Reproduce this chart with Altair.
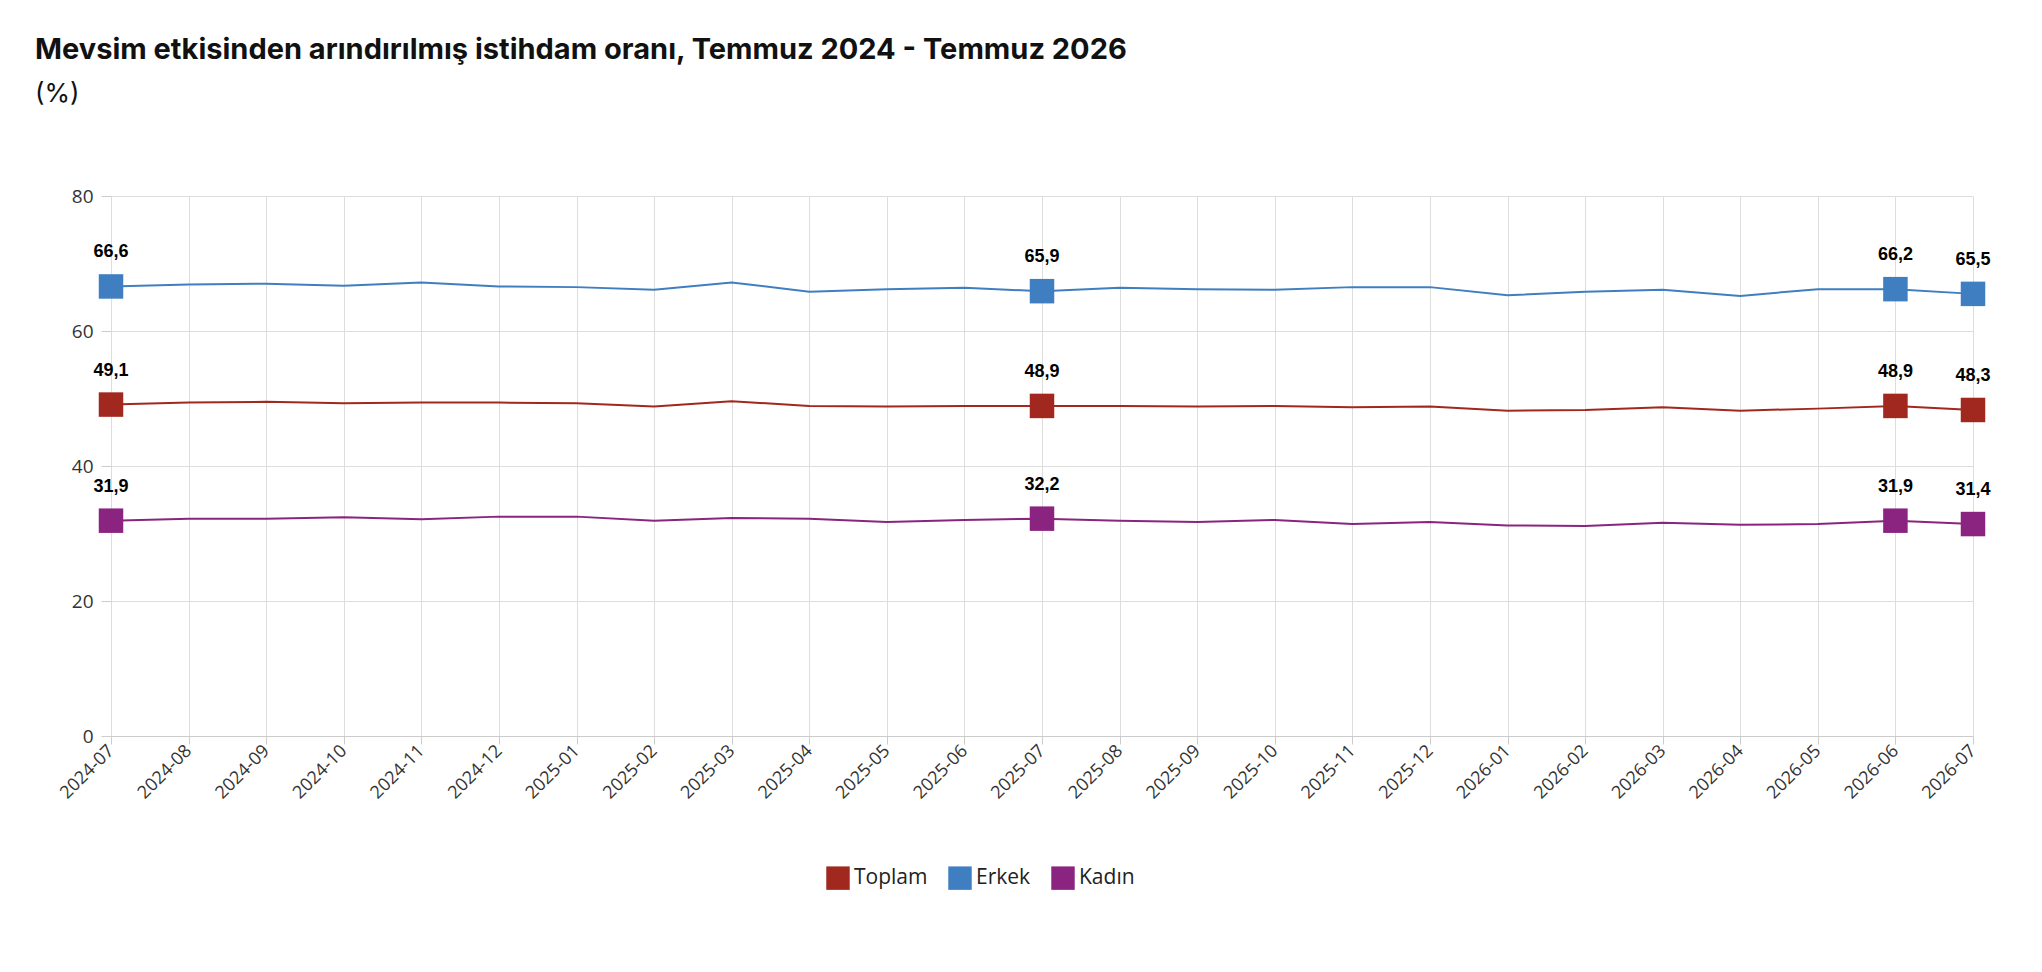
import pandas as pd
import altair as alt

months = ["2024-07", "2024-08", "2024-09", "2024-10", "2024-11", "2024-12",
          "2025-01", "2025-02", "2025-03", "2025-04", "2025-05", "2025-06",
          "2025-07", "2025-08", "2025-09", "2025-10", "2025-11", "2025-12",
          "2026-01", "2026-02", "2026-03", "2026-04", "2026-05", "2026-06",
          "2026-07"]

toplam = [49.1, 49.4, 49.5, 49.3, 49.4, 49.4, 49.3, 48.8, 49.6, 48.9, 48.8, 48.9,
          48.9, 48.9, 48.8, 48.9, 48.7, 48.8, 48.2, 48.3, 48.7, 48.2, 48.5, 48.9, 48.3]
erkek = [66.6, 66.9, 67.0, 66.7, 67.2, 66.6, 66.5, 66.1, 67.2, 65.8, 66.2, 66.4,
         65.9, 66.4, 66.2, 66.1, 66.5, 66.5, 65.3, 65.8, 66.1, 65.2, 66.2, 66.2, 65.5]
kadin = [31.9, 32.2, 32.2, 32.4, 32.1, 32.5, 32.5, 31.9, 32.3, 32.2, 31.7, 32.0,
         32.2, 31.9, 31.7, 32.0, 31.4, 31.7, 31.2, 31.1, 31.6, 31.3, 31.4, 31.9, 31.4]

series = ["Toplam", "Erkek", "Kadın"]
colors = ["#A0281E", "#3F7FC1", "#8B2480"]
marked = ["2024-07", "2025-07", "2026-06", "2026-07"]

rows = []
for name, vals in zip(series, [toplam, erkek, kadin]):
    for m, v in zip(months, vals):
        rows.append({"Ay": m, "Seri": name, "Değer": v,
                     "Etiket": f"{v:.1f}".replace(".", ",")})
df = pd.DataFrame(rows)
pts = df[df["Ay"].isin(marked)]

x = alt.X("Ay:O", title=None, sort=months,
          scale=alt.Scale(type="point", padding=0),
          axis=alt.Axis(labelAngle=-45, labelAlign="right", labelBaseline="middle",
                        labelFontSize=18, labelFont="Open Sans",
                        labelColor="#333", grid=True, gridColor="#dddddd",
                        domainColor="#cccccc", tickColor="#cccccc", tickSize=8,
                        labelPadding=4))
y = alt.Y("Değer:Q", title=None, scale=alt.Scale(domain=[0, 80]),
          axis=alt.Axis(values=[0, 20, 40, 60, 80], labelFontSize=19,
                        labelFont="Open Sans", labelColor="#333",
                        gridColor="#dddddd", domain=False, ticks=True,
                        tickColor="#cccccc", tickSize=10, labelPadding=8))
color = alt.Color("Seri:N", title=None,
                  scale=alt.Scale(domain=series, range=colors),
                  legend=alt.Legend(orient="none", legendX=715, legendY=670,
                                    direction="horizontal", symbolType="square",
                                    symbolSize=550, symbolStrokeWidth=0,
                                    labelFontSize=21, labelFont="Open Sans",
                                    labelColor="#222", columnPadding=20,
                                    symbolOpacity=1))

lines = alt.Chart(df).mark_line(strokeWidth=2).encode(x=x, y=y, color=color)
squares = alt.Chart(pts).mark_square(size=600, opacity=1).encode(
    x=x, y=y, color=alt.Color("Seri:N", scale=alt.Scale(domain=series, range=colors), legend=None))
labels = alt.Chart(pts).mark_text(dy=-34, fontSize=18, fontWeight="bold",
                                  font="Liberation Sans", color="#000").encode(
    x=x, y=y, text="Etiket:N")

chart = (lines + squares + labels).properties(
    width=1862, height=540,
    padding={"left": 103, "top": 188, "right": 60, "bottom": 226},
    autosize=alt.AutoSizeParams(type="none"),
    title=alt.TitleParams("Mevsim etkisinden arındırılmış istihdam oranı, Temmuz 2024 - Temmuz 2026",
                          subtitle="(%)", anchor="start", frame="group", dx=-76,
                          offset=80, font="Inter", fontSize=29, fontWeight="bold",
                          color="#111", subtitleFont="Inter", subtitleFontSize=26,
                          subtitleColor="#111", subtitlePadding=16),
).configure_view(strokeWidth=0)

chart.save("out.html", embed_options={"renderer": "svg", "actions": False})
